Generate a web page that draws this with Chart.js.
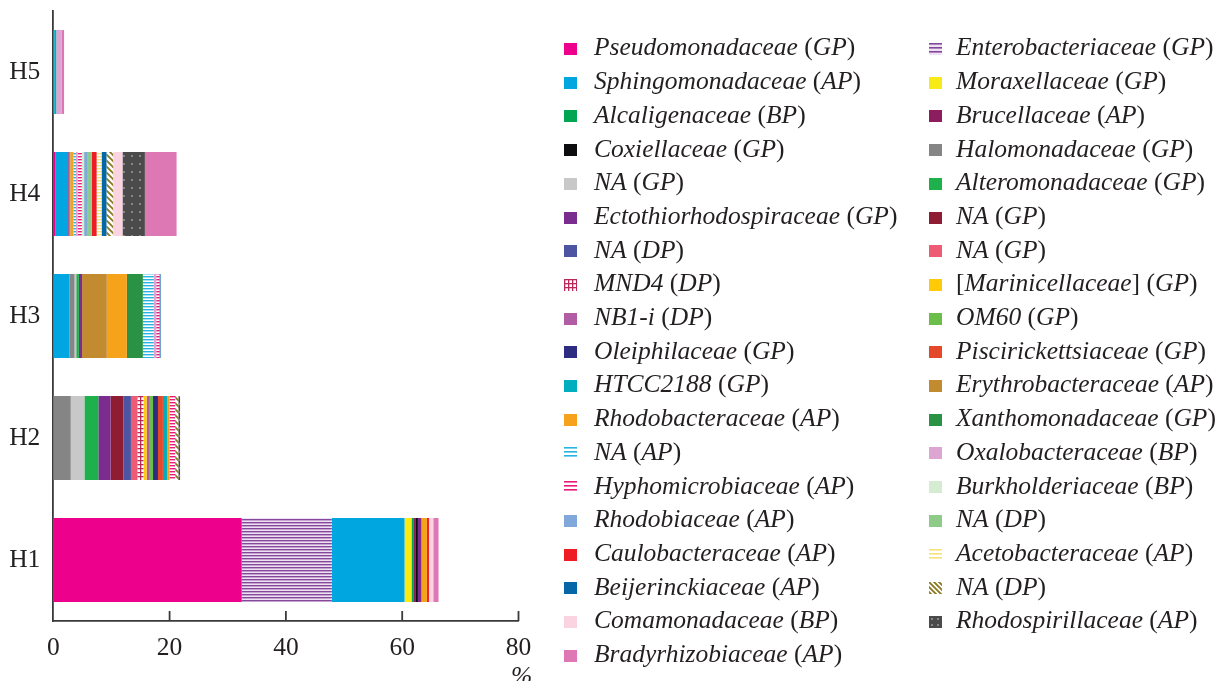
<!DOCTYPE html>
<html>
<head>
<meta charset="utf-8">
<script src="https://cdn.jsdelivr.net/npm/chart.js@4.4.1/dist/chart.umd.min.js"></script>
<style>
  html, body { margin: 0; padding: 0; background: #ffffff; }
  #wrap { position: relative; width: 1223px; height: 681px; overflow: hidden; }
  #chart { position: absolute; left: 0; top: 0; }
  .lg-text {
    position: absolute;
    font-family: "Liberation Serif", "DejaVu Serif", serif;
    font-size: 25.5px;
    line-height: 30px;
    color: #231f20;
    white-space: nowrap;
  }
  .lg-text i { font-style: italic; }
  .lg-sw { position: absolute; }
</style>
</head>
<body>
<div id="wrap">
  <canvas id="chart" width="1223" height="681"></canvas>
  <div id="legend"></div>
</div>
<script>
// Samples along the vertical axis (H1 at the bottom)
const categories = ['H1', 'H2', 'H3', 'H4', 'H5'];

// Families in stacking order; the legend lists them two per row
const families = [
  'Pseudomonadaceae', 'Enterobacteriaceae', 'Sphingomonadaceae', 'Moraxellaceae',
  'Alcaligenaceae', 'Brucellaceae', 'Coxiellaceae', 'Halomonadaceae',
  'NA', 'Alteromonadaceae', 'Ectothiorhodospiraceae', 'NA',
  'NA', 'NA', 'MND4', '[Marinicellaceae]',
  'NB1-i', 'OM60', 'Oleiphilaceae', 'Piscirickettsiaceae',
  'HTCC2188', 'Erythrobacteraceae', 'Rhodobacteraceae', 'Xanthomonadaceae',
  'NA', 'Oxalobacteraceae', 'Hyphomicrobiaceae', 'Burkholderiaceae',
  'Rhodobiaceae', 'NA', 'Caulobacteraceae', 'Acetobacteraceae',
  'Beijerinckiaceae', 'NA', 'Comamonadaceae', 'Rhodospirillaceae',
  'Bradyrhizobiaceae'
];
const groups = [
  'GP', 'GP', 'AP', 'GP',
  'BP', 'AP', 'GP', 'GP',
  'GP', 'GP', 'GP', 'GP',
  'DP', 'GP', 'DP', 'GP',
  'DP', 'GP', 'GP', 'GP',
  'GP', 'AP', 'AP', 'GP',
  'AP', 'BP', 'AP', 'BP',
  'AP', 'DP', 'AP', 'AP',
  'AP', 'DP', 'BP', 'AP',
  'AP'
];

// Relative abundance, %, one value per family (same order as above)
const H1 = [32.4, 15.5, 12.5, 1.2, 0.3, 0.35, 0.45, 0, 0, 0,
            0.6, 0, 0, 0, 0, 0, 0, 0, 0, 0,
            0, 0, 0.95, 0, 0, 0, 0, 0, 0, 0,
            0.35, 0, 0, 0, 0.75, 0, 0.9];
const H2 = [0, 0, 0, 0, 0, 0, 0, 3.0, 2.35, 2.4,
            2.1, 2.2, 1.3, 1.1, 1.05, 0.55, 0.55, 0.55, 0.85, 0.85,
            0.75, 0, 0.4, 0, 0, 0, 0.95, 0, 0, 0,
            0, 0, 0, 0.55, 0, 0.3, 0];
const H3 = [0, 0, 2.8, 0, 0, 0, 0, 0.85, 0.3, 0.45,
            0.55, 0, 0, 0, 0, 0, 0, 0, 0, 0,
            0, 4.25, 3.45, 2.75, 1.9, 0.4, 0.55, 0, 0, 0,
            0, 0, 0.2, 0, 0, 0, 0];
const H4 = [0.4, 0, 2.0, 0, 0, 0, 0, 0, 0, 0,
            0.25, 0, 0, 0, 0, 0, 0, 0, 0, 0,
            0, 0.3, 0.5, 0, 0.45, 0.3, 0.7, 0.4, 0.5, 0.8,
            0.85, 0.85, 0.85, 1.15, 1.6, 3.85, 5.45];
const H5 = [0, 0, 0.15, 0, 0, 0, 0, 0, 0, 0,
            0, 0, 0, 0, 0, 0, 0, 0, 0, 0,
            0.35, 0, 0, 0, 0, 0.9, 0, 0, 0, 0,
            0, 0, 0, 0, 0, 0, 0.45];
const samples = [H1, H2, H3, H4, H5];

// Horizontal axis ticks
const xTickValues = [0, 20, 40, 60, 80];

// Fill styles for each family: plain colours or small repeating patterns
const fills = [
  { c: '#EC008C' },
  { k: 'hlines', fg: '#84479C', bg: '#EEE2F2' },
  { c: '#00A6E0' },
  { c: '#F6EB14' },
  { c: '#00A651' },
  { c: '#8C1D5E' },
  { c: '#0D0D0F' },
  { c: '#858585' },
  { c: '#C8C8C8' },
  { c: '#1DB04B' },
  { c: '#7B2C8F' },
  { c: '#8E1C33' },
  { c: '#4D55A3' },
  { c: '#EE5B74' },
  { k: 'grid', fg: '#B8285C', bg: '#FFFFFF' },
  { c: '#FFCB08' },
  { c: '#B25CA5' },
  { c: '#6CBE4B' },
  { c: '#2E2C80' },
  { c: '#E4492A' },
  { c: '#00AEBD' },
  { c: '#C28B2F' },
  { c: '#F7A21B' },
  { c: '#2A9245' },
  { k: 'hlines', fg: '#27B3E3', bg: '#FFFFFF' },
  { c: '#DDA6D2' },
  { k: 'hlines', fg: '#E8197A', bg: '#FFFFFF' },
  { c: '#D5EBD2' },
  { c: '#80A8DA' },
  { c: '#8ECB88' },
  { c: '#EE1D25' },
  { k: 'hlines', fg: '#F7E27A', bg: '#FFFFFF' },
  { c: '#0667A8' },
  { k: 'diag', fg: '#8B7A22', bg: '#FFFFFF' },
  { c: '#FAD5E1' },
  { k: 'dots', fg: '#A5A5A5', bg: '#4B4B4B' },
  { c: '#DE78B4' }
];

const AXIS_COLOR = '#3a3a3a';
const TEXT_COLOR = '#231f20';
const SERIF = '"Liberation Serif", "DejaVu Serif", serif';

// Build a tile and turn it into a repeating pattern; "big" gives the coarser legend version
function makeTile(spec, big) {
  const t = document.createElement('canvas');
  const g = t.getContext('2d');
  if (spec.k === 'hlines') {
    const p = big ? 4 : 3;
    t.width = 8; t.height = p;
    g.fillStyle = spec.bg; g.fillRect(0, 0, 8, p);
    g.fillStyle = spec.fg; g.fillRect(0, 0, 8, big ? 1.6 : 1.4);
  } else if (spec.k === 'grid') {
    const p = 4;
    t.width = p; t.height = p;
    g.fillStyle = spec.bg; g.fillRect(0, 0, p, p);
    g.fillStyle = spec.fg; g.fillRect(0, 0, p, 1.3); g.fillRect(0, 0, 1.3, p);
  } else if (spec.k === 'diag') {
    const p = big ? 5 : 6;
    t.width = p; t.height = p;
    g.fillStyle = spec.bg; g.fillRect(0, 0, p, p);
    g.strokeStyle = spec.fg; g.lineWidth = big ? 1.9 : 1.8;
    g.beginPath();
    g.moveTo(-1, -1); g.lineTo(p + 1, p + 1);
    g.moveTo(-1, p - 1); g.lineTo(1, p + 1);
    g.moveTo(p - 1, -1); g.lineTo(p + 1, 1);
    g.stroke();
  } else if (spec.k === 'dots') {
    const p = big ? 6 : 8;
    t.width = p; t.height = p;
    g.fillStyle = spec.bg; g.fillRect(0, 0, p, p);
    g.fillStyle = spec.fg;
    g.beginPath(); g.arc(p / 2, p / 2, 0.9, 0, Math.PI * 2); g.fill();
  }
  return t;
}
function makeFill(ctx, spec, big) {
  if (!spec.k) return spec.c;
  return ctx.createPattern(makeTile(spec, big), 'repeat');
}

const canvas = document.getElementById('chart');
const ctx = canvas.getContext('2d');

const datasets = families.map((name, i) => ({
  label: name + ' (' + groups[i] + ')',
  data: samples.map(s => s[i]),
  backgroundColor: makeFill(ctx, fills[i], false),
  borderWidth: 0,
  barPercentage: 0.69,
  categoryPercentage: 1.0
}));

// Inward tick marks on the horizontal axis and the unit label under its end
const axisDecor = {
  id: 'axisDecor',
  afterDraw(chart) {
    const xs = chart.scales.x;
    const c = chart.ctx;
    c.save();
    c.strokeStyle = AXIS_COLOR;
    c.lineWidth = 1.8;
    xTickValues.forEach(v => {
      if (v === 0) return;
      const px = xs.getPixelForValue(v);
      c.beginPath();
      c.moveTo(px, xs.top);
      c.lineTo(px, xs.top - 10);
      c.stroke();
    });
    c.fillStyle = TEXT_COLOR;
    c.font = 'italic 25.5px ' + SERIF;
    c.textAlign = 'center';
    c.textBaseline = 'alphabetic';
    c.fillText('%', xs.getPixelForValue(80) + 3, 684);
    c.restore();
  }
};

const chart = new Chart(ctx, {
  type: 'bar',
  data: { labels: categories, datasets },
  options: {
    indexAxis: 'y',
    responsive: false,
    animation: false,
    events: [],
    layout: { padding: { top: 11, right: 704.5, left: 0, bottom: 0 } },
    plugins: { legend: { display: false }, tooltip: { enabled: false } },
    scales: {
      x: {
        stacked: true,
        min: 0,
        max: 80,
        afterBuildTicks(scale) { scale.ticks = xTickValues.map(v => ({ value: v })); },
        afterFit(scale) {
          scale.height = 60;
          scale.paddingLeft = 0;
          scale.paddingRight = 0;
        },
        grid: { display: false, drawTicks: false },
        border: { display: true, color: AXIS_COLOR, width: 1.8 },
        ticks: { color: TEXT_COLOR, padding: 12, font: { family: SERIF, size: 25.5 } }
      },
      y: {
        stacked: true,
        reverse: true,
        afterFit(scale) {
          scale.width = 53.3;
          scale.paddingTop = 0;
          scale.paddingBottom = 0;
        },
        grid: { display: false, drawTicks: false },
        border: { display: true, color: AXIS_COLOR, width: 1.8 },
        ticks: { color: TEXT_COLOR, padding: 13, font: { family: SERIF, size: 25.5 } }
      }
    }
  },
  plugins: [axisDecor]
});

// Legend: two columns, entries taken row by row from the dataset order
const legendBox = document.getElementById('legend');
const ROW0 = 49, ROW_STEP = 33.7;
function richLabel(el, text) {
  // italic names, upright brackets and parentheses
  text.split(/([\[\]\(\)\s]+)/).forEach(part => {
    if (!part) return;
    if (/^[\[\]\(\)\s]+$/.test(part)) {
      el.appendChild(document.createTextNode(part));
    } else {
      const i = document.createElement('i');
      i.textContent = part;
      el.appendChild(i);
    }
  });
}
chart.data.datasets.forEach((ds, i) => {
  const col = i % 2;
  const row = Math.floor(i / 2);
  const cy = ROW0 + row * ROW_STEP;
  const sw = document.createElement('canvas');
  sw.width = 13; sw.height = 12;
  sw.className = 'lg-sw';
  sw.style.left = (col ? 929 : 563.5) + 'px';
  sw.style.top = (cy - 6) + 'px';
  const sg = sw.getContext('2d');
  sg.fillStyle = makeFill(sg, fills[i], true);
  sg.fillRect(0, 0, 13, 12);
  legendBox.appendChild(sw);

  const tx = document.createElement('div');
  tx.className = 'lg-text';
  tx.style.left = (col ? 956 : 594) + 'px';
  tx.style.top = (cy + 7 - 23.6) + 'px';
  richLabel(tx, ds.label);
  legendBox.appendChild(tx);
});
</script>
</body>
</html>
